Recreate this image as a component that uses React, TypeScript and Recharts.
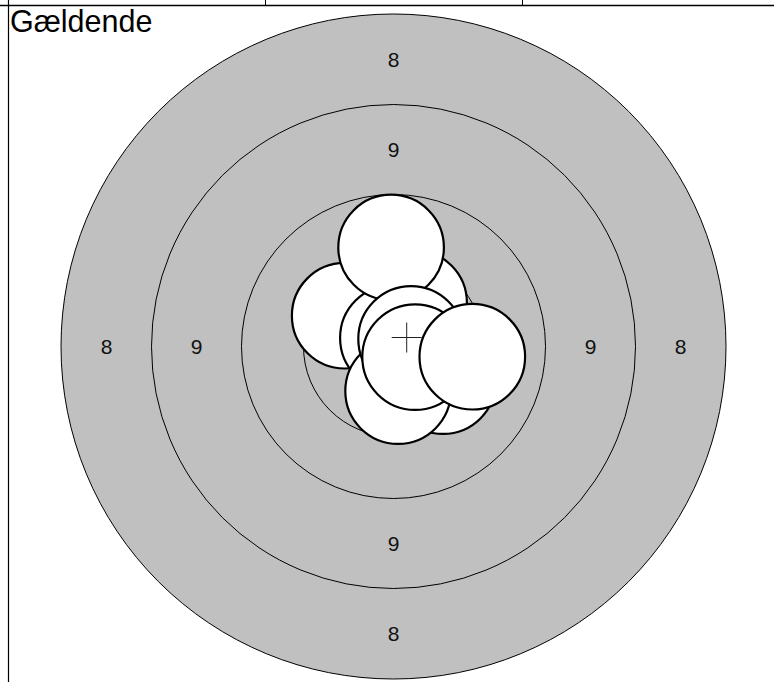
import React from "react";
import { ScatterChart, Scatter, XAxis, YAxis } from "recharts";

// target rings (radius, in target units), outer to inner
const RING_RADII = [166.25, 121, 76, 45];

// ring score labels
const LABELS = [
  { x: 0, y: 143.5, text: "8" },
  { x: 0, y: -143.5, text: "8" },
  { x: -143.5, y: 0, text: "8" },
  { x: 143.5, y: 0, text: "8" },
  { x: 0, y: 98.5, text: "9" },
  { x: 0, y: -98.5, text: "9" },
  { x: -98.5, y: 0, text: "9" },
  { x: 98.5, y: 0, text: "9" },
];

// shot holes, in the order they were drawn
const SHOT_X = [10.3, 24.8, -24.4, -0.3, -1.2, 2.3, 8.8, 10.8, 39.4];
const SHOT_Y = [21.8, -17.3, 15.4, 4.3, 49.5, -22.3, 3.8, -5.3, -5.1];
const HOLE_R = 26.4;

// mean point of impact
const MEAN = [{ x: 6.6, y: 4.5 }];
const CROSS_HALF = 7.5;

const DOMAIN: [number, number] = [-165, 165];

const W = 774;
const H = 682;
const M = { top: 16.5, right: 50.5, bottom: 5.5, left: 63.5 };
const K = (W - M.left - M.right) / (DOMAIN[1] - DOMAIN[0]);

const FONT = "'Liberation Sans', Arial, sans-serif";

const rings = RING_RADII.map(r => ({ x: 0, y: 0, r }));
const shots = SHOT_X.map((x, i) => ({ x, y: SHOT_Y[i] }));

function RingShape(props: any) {
  return (
    <circle cx={props.cx} cy={props.cy} r={props.payload.r * K}
      fill="#c0c0c0" stroke="#000" strokeWidth={1} />
  );
}

function HoleShape(props: any) {
  return (
    <circle cx={props.cx} cy={props.cy} r={HOLE_R * K}
      fill="#fff" stroke="#000" strokeWidth={2.2} />
  );
}

function LabelShape(props: any) {
  return (
    <text x={props.cx} y={props.cy} dy="0.36em" textAnchor="middle"
      fontFamily={FONT} fontSize={21} fill="#111">
      {props.payload.text}
    </text>
  );
}

function CrossShape(props: any) {
  const h = CROSS_HALF * K;
  const { cx, cy } = props;
  return (
    <path d={`M${cx - h},${cy}H${cx + h}M${cx},${cy - h}V${cy + h}`}
      stroke="#222" strokeWidth={1} fill="none" />
  );
}

export default function App() {
  return (
    <div style={{ position: "absolute", top: 0, left: 0, width: W, height: H }}>
      <ScatterChart width={W} height={H} margin={M}>
        <XAxis type="number" dataKey="x" domain={DOMAIN} hide />
        <YAxis type="number" dataKey="y" domain={DOMAIN} hide />
        <Scatter data={rings} shape={RingShape} isAnimationActive={false} />
        <Scatter data={LABELS} shape={LabelShape} isAnimationActive={false} />
        <Scatter data={shots} shape={HoleShape} isAnimationActive={false} />
        <Scatter data={MEAN} shape={CrossShape} isAnimationActive={false} />
      </ScatterChart>
      <svg width={W} height={H}
        style={{ position: "absolute", top: 0, left: 0, pointerEvents: "none" }}>
        <line x1={0} y1={5.5} x2={W} y2={5.5} stroke="#000" strokeWidth={1.4} />
        <line x1={8.5} y1={0} x2={8.5} y2={H} stroke="#000" strokeWidth={1.2} />
        <line x1={265.5} y1={0} x2={265.5} y2={5} stroke="#000" strokeWidth={1} />
        <line x1={522.5} y1={0} x2={522.5} y2={5} stroke="#000" strokeWidth={1} />
        <text x={10} y={32} fontFamily={FONT} fontSize={30.5} fill="#000">Gældende</text>
      </svg>
    </div>
  );
}
